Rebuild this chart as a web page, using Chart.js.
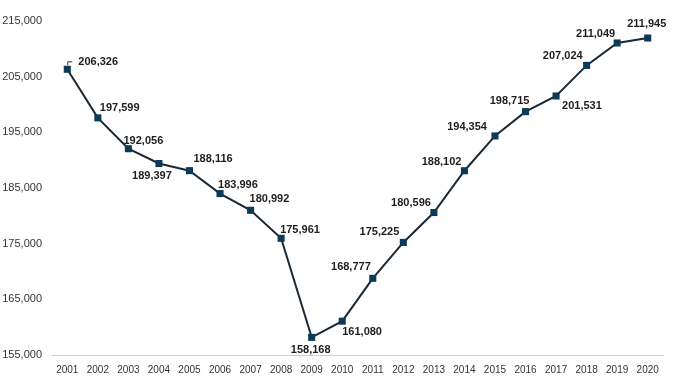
<!DOCTYPE html>
<html>
<head>
<meta charset="utf-8">
<script src="https://cdn.jsdelivr.net/npm/chart.js@4/dist/chart.umd.min.js"></script>
<style>
  html, body { margin: 0; padding: 0; background: #fff; }
  #wrap { width: 681px; height: 378px; }
</style>
</head>
<body>
<div id="wrap"><canvas id="myChart"></canvas></div>
<script>
const years = ['2001', '2002', '2003', '2004', '2005', '2006', '2007', '2008', '2009', '2010',
    '2011', '2012', '2013', '2014', '2015', '2016', '2017', '2018', '2019', '2020'];
const totals = [206326, 197599, 192056, 189397, 188116, 183996, 180992, 175961, 158168, 161080,
    168777, 175225, 180596, 188102, 194354, 198715, 201531, 207024, 211049, 211945];
const yTicks = [155000, 165000, 175000, 185000, 195000, 205000, 215000];

// label placement per point: [dx, dy, align]
const labelPos = [
    [11, -7, 'left'], [2, -10, 'left'], [15, -8, 'center'], [-7, 12, 'center'], [4, -12, 'left'],
    [-2, -9, 'left'], [-1, -11, 'left'], [-1, -8, 'left'], [-1, 13, 'center'], [0, 11, 'left'],
    [-2, -11, 'right'], [-4, -10, 'right'], [-3, -10, 'right'], [-3, -9, 'right'], [-8, -9, 'right'],
    [-16, -11, 'center'], [6, 10, 'left'], [-4, -9, 'right'], [-2, -9, 'right'], [-1, -14, 'center']
];

const valueLabels = {
    id: 'valueLabels',
    afterDatasetsDraw(chart) {
        const ctx = chart.ctx;
        const pts = chart.getDatasetMeta(0).data;
        ctx.save();
        ctx.font = 'bold 11px "Liberation Sans", Arial, sans-serif';
        ctx.fillStyle = '#1e1e1e';
        ctx.textBaseline = 'middle';
        pts.forEach((p, i) => {
            const [dx, dy, al] = labelPos[i];
            ctx.textAlign = al;
            ctx.fillText(totals[i].toLocaleString('en-US'), p.x + dx, p.y + dy);
        });
        // leader line on first label
        const p0 = pts[0];
        ctx.strokeStyle = '#333';
        ctx.lineWidth = 1;
        ctx.beginPath();
        ctx.moveTo(p0.x + 0.5, p0.y - 4);
        ctx.lineTo(p0.x + 0.5, p0.y - 7.5);
        ctx.lineTo(p0.x + 5, p0.y - 7.5);
        ctx.stroke();
        ctx.restore();
    }
};

new Chart(document.getElementById('myChart'), {
    type: 'line',
    data: {
        labels: years,
        datasets: [{
            data: totals,
            borderColor: '#1b2836',
            borderWidth: 2,
            pointStyle: 'rect',
            pointRadius: 5,
            pointHoverRadius: 5,
            pointBackgroundColor: '#0d3a57',
            pointBorderColor: '#0d3a57',
            pointBorderWidth: 0,
            tension: 0
        }]
    },
    options: {
        responsive: true,
        maintainAspectRatio: false,
        animation: false,
        layout: { padding: { top: 21, right: 18, left: 0, bottom: 0 } },
        plugins: {
            legend: { display: false },
            tooltip: { enabled: false }
        },
        scales: {
            x: {
                offset: true,
                grid: { display: false, drawTicks: false },
                border: { color: '#d0d0d0', width: 1 },
                ticks: {
                    padding: 9,
                    color: '#333',
                    font: { size: 10, family: '"Liberation Sans", Arial, sans-serif' },
                    maxRotation: 0
                },
                afterFit: s => { s.height = 23; }
            },
            y: {
                min: 155000,
                max: 215000,
                afterBuildTicks: s => { s.ticks = yTicks.map(v => ({ value: v })); },
                grid: { display: false, drawTicks: false },
                border: { display: false },
                ticks: {
                    padding: 10,
                    color: '#333',
                    font: { size: 11, family: '"Liberation Sans", Arial, sans-serif' },
                    callback: v => v.toLocaleString('en-US')
                },
                afterFit: s => { s.width = 52; }
            }
        }
    },
    plugins: [valueLabels]
});
</script>
</body>
</html>
